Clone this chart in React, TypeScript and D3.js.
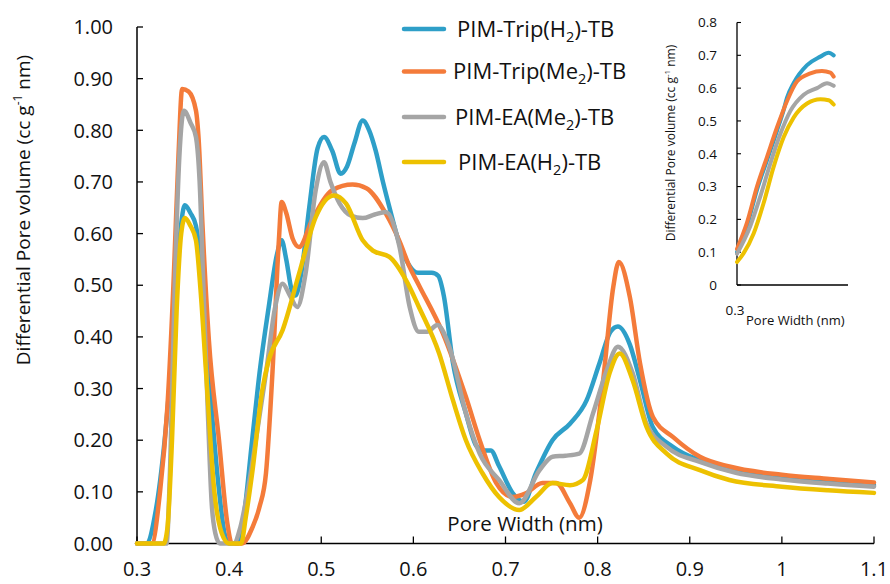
import React from "react";
import * as d3 from "d3";

// ---------- Main chart data (pore width in nm, differential pore volume) ----------
const tripH2X = [0.30, 0.31, 0.32, 0.33, 0.34, 0.345, 0.352, 0.358, 0.364, 0.368, 0.372, 0.38, 0.388, 0.395, 0.40, 0.41, 0.415, 0.425, 0.433, 0.443, 0.452, 0.457, 0.462, 0.468, 0.472, 0.478, 0.487, 0.496, 0.503, 0.512, 0.521, 0.528, 0.536, 0.545, 0.552, 0.559, 0.567, 0.574, 0.585, 0.595, 0.605, 0.62, 0.627, 0.633, 0.643, 0.657, 0.668, 0.676, 0.684, 0.693, 0.708, 0.72, 0.733, 0.751, 0.77, 0.788, 0.802, 0.814, 0.822, 0.835, 0.846, 0.86, 0.882, 0.911, 0.95, 1.0, 1.05, 1.1];
const tripH2Y = [0, 0, 0.06, 0.2, 0.42, 0.56, 0.655, 0.64, 0.615, 0.56, 0.45, 0.28, 0.12, 0.02, 0, 0, 0.04, 0.2, 0.33, 0.458, 0.56, 0.587, 0.55, 0.49, 0.48, 0.52, 0.651, 0.765, 0.787, 0.76, 0.716, 0.73, 0.775, 0.819, 0.8, 0.761, 0.7, 0.651, 0.58, 0.54, 0.524, 0.524, 0.518, 0.48, 0.349, 0.252, 0.19, 0.18, 0.18, 0.15, 0.097, 0.081, 0.136, 0.2, 0.232, 0.277, 0.349, 0.41, 0.42, 0.385, 0.316, 0.225, 0.187, 0.161, 0.14, 0.126, 0.118, 0.113];

const tripMe2X = [0.30, 0.316, 0.325, 0.333, 0.34, 0.345, 0.349, 0.356, 0.364, 0.367, 0.371, 0.378, 0.389, 0.398, 0.403, 0.414, 0.425, 0.433, 0.44, 0.447, 0.454, 0.457, 0.462, 0.469, 0.476, 0.49, 0.512, 0.534, 0.549, 0.57, 0.585, 0.596, 0.606, 0.632, 0.657, 0.672, 0.69, 0.708, 0.722, 0.74, 0.755, 0.77, 0.78, 0.792, 0.806, 0.817, 0.823, 0.835, 0.846, 0.86, 0.882, 0.911, 0.943, 1.0, 1.052, 1.1];
const tripMe2Y = [0, 0, 0.1, 0.265, 0.52, 0.75, 0.88, 0.875, 0.838, 0.78, 0.62, 0.394, 0.2, 0.04, 0, 0, 0.03, 0.071, 0.136, 0.33, 0.587, 0.661, 0.64, 0.59, 0.574, 0.626, 0.684, 0.695, 0.688, 0.639, 0.585, 0.535, 0.5, 0.407, 0.284, 0.2, 0.117, 0.09, 0.097, 0.117, 0.117, 0.078, 0.05, 0.123, 0.316, 0.497, 0.545, 0.477, 0.349, 0.245, 0.206, 0.168, 0.149, 0.133, 0.125, 0.118];

const eaMe2X = [0.30, 0.332, 0.336, 0.341, 0.346, 0.351, 0.358, 0.364, 0.368, 0.372, 0.377, 0.381, 0.385, 0.39, 0.405, 0.412, 0.42, 0.429, 0.44, 0.45, 0.458, 0.466, 0.474, 0.483, 0.494, 0.503, 0.51, 0.52, 0.532, 0.545, 0.558, 0.57, 0.585, 0.596, 0.606, 0.615, 0.626, 0.639, 0.657, 0.672, 0.693, 0.715, 0.737, 0.751, 0.765, 0.78, 0.795, 0.81, 0.822, 0.838, 0.853, 0.875, 0.911, 0.95, 1.0, 1.05, 1.1];
const eaMe2Y = [0, 0, 0.15, 0.5, 0.75, 0.838, 0.815, 0.787, 0.7, 0.5, 0.25, 0.08, 0.02, 0, 0, 0.03, 0.1, 0.2, 0.33, 0.458, 0.503, 0.48, 0.458, 0.523, 0.684, 0.738, 0.7, 0.658, 0.635, 0.63, 0.637, 0.642, 0.574, 0.458, 0.41, 0.41, 0.423, 0.381, 0.252, 0.174, 0.123, 0.078, 0.142, 0.168, 0.17, 0.174, 0.252, 0.336, 0.381, 0.33, 0.232, 0.187, 0.158, 0.137, 0.124, 0.116, 0.11];

const eaH2X = [0.30, 0.329, 0.333, 0.338, 0.343, 0.348, 0.352, 0.358, 0.364, 0.369, 0.375, 0.384, 0.392, 0.40, 0.413, 0.418, 0.425, 0.436, 0.443, 0.458, 0.476, 0.494, 0.514, 0.527, 0.545, 0.556, 0.574, 0.592, 0.606, 0.628, 0.643, 0.657, 0.675, 0.693, 0.715, 0.733, 0.751, 0.77, 0.784, 0.799, 0.813, 0.824, 0.838, 0.853, 0.875, 0.911, 0.943, 1.0, 1.05, 1.1];
const eaH2Y = [0, 0, 0.03, 0.2, 0.45, 0.6, 0.63, 0.615, 0.587, 0.49, 0.33, 0.1, 0.02, 0, 0, 0.05, 0.136, 0.297, 0.355, 0.413, 0.523, 0.632, 0.674, 0.658, 0.587, 0.567, 0.555, 0.51, 0.458, 0.368, 0.277, 0.2, 0.136, 0.09, 0.065, 0.09, 0.117, 0.113, 0.123, 0.22, 0.33, 0.368, 0.316, 0.226, 0.174, 0.142, 0.123, 0.11, 0.103, 0.098];

// ---------- Inset data ----------
const insetTripH2X = [0.30, 0.381, 0.462, 0.543, 0.624, 0.678, 0.705, 0.759, 0.868, 0.976, 1.043, 1.084];
const insetTripH2Y = [0.10, 0.18, 0.29, 0.38, 0.47, 0.533, 0.57, 0.615, 0.67, 0.696, 0.708, 0.70];
const insetTripMe2X = [0.30, 0.381, 0.462, 0.543, 0.624, 0.705, 0.786, 0.895, 0.989, 1.057, 1.084];
const insetTripMe2Y = [0.11, 0.19, 0.30, 0.39, 0.48, 0.56, 0.62, 0.645, 0.652, 0.647, 0.635];
const insetEaMe2X = [0.30, 0.408, 0.489, 0.57, 0.651, 0.732, 0.841, 0.949, 1.03, 1.084];
const insetEaMe2Y = [0.095, 0.18, 0.27, 0.37, 0.46, 0.53, 0.58, 0.60, 0.615, 0.607];
const insetEaH2X = [0.30, 0.354, 0.435, 0.516, 0.597, 0.678, 0.759, 0.868, 0.976, 1.043, 1.084];
const insetEaH2Y = [0.07, 0.097, 0.157, 0.25, 0.36, 0.45, 0.51, 0.553, 0.566, 0.563, 0.55];

// ---------- Labels / ticks ----------
const xTicks = [0.3, 0.4, 0.5, 0.6, 0.7, 0.8, 0.9, 1.0, 1.1];
const yTicks = [0, 0.1, 0.2, 0.3, 0.4, 0.5, 0.6, 0.7, 0.8, 0.9, 1.0];
const insetYTicks = [0, 0.1, 0.2, 0.3, 0.4, 0.5, 0.6, 0.7, 0.8];
const seriesNames = [
  ["PIM-Trip(H", "2", ")-TB"],
  ["PIM-Trip(Me", "2", ")-TB"],
  ["PIM-EA(Me", "2", ")-TB"],
  ["PIM-EA(H", "2", ")-TB"],
];
const seriesColors = ["#2E9FC8", "#F47B3A", "#A5A5A5", "#EDC100"];

const FONT = "'Open Sans', 'Liberation Sans', sans-serif";

export default function App() {
  const x = d3.scaleLinear().domain([0.3, 1.1]).range([137, 874]);
  const y = d3.scaleLinear().domain([0, 1]).range([543.5, 27]);
  const ix = d3.scaleLinear().domain([0.3, 1.2]).range([737, 848]);
  const iy = d3.scaleLinear().domain([0, 0.8]).range([285, 22.5]);

  const mainSeries = [
    [tripH2X, tripH2Y],
    [tripMe2X, tripMe2Y],
    [eaMe2X, eaMe2Y],
    [eaH2X, eaH2Y],
  ];
  const insetSeries = [
    [insetTripH2X, insetTripH2Y],
    [insetTripMe2X, insetTripMe2Y],
    [insetEaMe2X, insetEaMe2Y],
    [insetEaH2X, insetEaH2Y],
  ];

  const mainLine = d3
    .line<[number, number]>()
    .x((d) => x(d[0]))
    .y((d) => y(d[1]))
    .curve(d3.curveMonotoneX);
  const insetLine = d3
    .line<[number, number]>()
    .x((d) => ix(d[0]))
    .y((d) => iy(d[1]))
    .curve(d3.curveMonotoneX);

  const legendY = [29, 71.5, 117, 162];
  const legendTextX = [457, 453, 455, 458];

  return (
    <svg
      width={890}
      height={584}
      style={{ position: "absolute", left: 0, top: 0, background: "#fff" }}
      fontFamily={FONT}
    >
      <rect x={0} y={0} width={890} height={584} fill="#fff" />

      {/* Main axes */}
      <line x1={x(0.3)} x2={x(0.3)} y1={y(1)} y2={y(0)} stroke="#000" strokeWidth={1.5} />
      <line x1={x(0.3)} x2={x(1.1)} y1={y(0)} y2={y(0)} stroke="#000" strokeWidth={1.5} />
      {yTicks.map((t) => (
        <g key={"yt" + t}>
          <line x1={x(0.3)} x2={x(0.3) + 6} y1={y(t)} y2={y(t)} stroke="#000" strokeWidth={1.3} />
          <text x={113} y={y(t)} dy="0.36em" textAnchor="end" fontSize={20} fill="#111">
            {t.toFixed(2)}
          </text>
        </g>
      ))}
      {xTicks.map((t) => (
        <g key={"xt" + t}>
          <line x1={x(t)} x2={x(t)} y1={y(0)} y2={y(0) - 7} stroke="#000" strokeWidth={1.3} />
          <text x={x(t)} y={576} textAnchor="middle" fontSize={20} fill="#111">
            {d3.format("~g")(t)}
          </text>
        </g>
      ))}

      {/* Axis titles */}
      <text
        transform="translate(30,210) rotate(-90)"
        textAnchor="middle"
        fontSize={19}
        fill="#111"
      >
        Differential Pore volume (cc g
        <tspan fontSize={12} dy={-8}>-1</tspan>
        <tspan dy={8}> nm)</tspan>
      </text>
      <text x={525} y={531} textAnchor="middle" fontSize={20.5} fill="#111">
        Pore Width (nm)
      </text>

      {/* Main series */}
      {mainSeries.map(([xs, ys], i) => (
        <path
          key={"s" + i}
          d={mainLine(xs.map((v, k) => [v, ys[k]] as [number, number])) || ""}
          fill="none"
          stroke={seriesColors[i]}
          strokeWidth={4.5}
          strokeLinejoin="round"
          strokeLinecap="round"
        />
      ))}

      {/* Legend */}
      {seriesNames.map((nm, i) => (
        <g key={"lg" + i}>
          <line
            x1={404}
            x2={444}
            y1={legendY[i]}
            y2={legendY[i]}
            stroke={seriesColors[i]}
            strokeWidth={4.5}
            strokeLinecap="round"
          />
          <text x={legendTextX[i]} y={legendY[i]} dy="0.36em" fontSize={22} fill="#111">
            {nm[0]}
            <tspan fontSize={14.5} dy={5}>{nm[1]}</tspan>
            <tspan dy={-5}>{nm[2]}</tspan>
          </text>
        </g>
      ))}

      {/* Inset */}
      <line x1={ix(0.3)} x2={ix(0.3)} y1={iy(0.8)} y2={iy(0)} stroke="#000" strokeWidth={1.3} />
      <line x1={ix(0.3)} x2={ix(1.2)} y1={iy(0)} y2={iy(0)} stroke="#000" strokeWidth={1.3} />
      {insetYTicks.map((t) => (
        <g key={"iyt" + t}>
          <line x1={ix(0.3)} x2={ix(0.3) + 4} y1={iy(t)} y2={iy(t)} stroke="#000" strokeWidth={1.1} />
          <text x={717} y={iy(t)} dy="0.36em" textAnchor="end" fontSize={13.5} fill="#111">
            {d3.format("~g")(t)}
          </text>
        </g>
      ))}
      <text x={735} y={315} textAnchor="middle" fontSize={13.5} fill="#111">
        0.3
      </text>
      <text x={746} y={325} fontSize={13} fill="#111">
        Pore Width (nm)
      </text>
      <text
        transform="translate(675,143) rotate(-90)"
        textAnchor="middle"
        fontSize={12}
        fill="#111"
      >
        Differential Pore volume (cc g
        <tspan fontSize={8} dy={-5}>-1</tspan>
        <tspan dy={5}> nm)</tspan>
      </text>
      {insetSeries.map(([xs, ys], i) => (
        <path
          key={"is" + i}
          d={insetLine(xs.map((v, k) => [v, ys[k]] as [number, number])) || ""}
          fill="none"
          stroke={seriesColors[i]}
          strokeWidth={4}
          strokeLinejoin="round"
          strokeLinecap="round"
        />
      ))}
    </svg>
  );
}
